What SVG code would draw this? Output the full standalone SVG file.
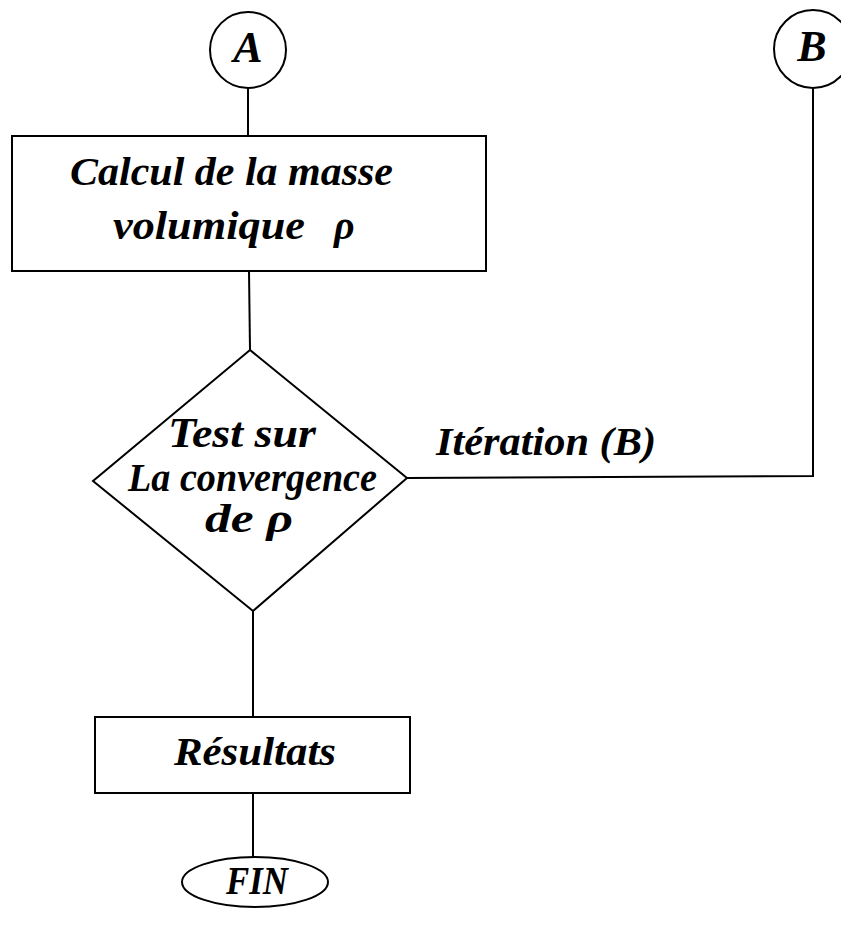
<svg xmlns="http://www.w3.org/2000/svg" width="841" height="935" viewBox="0 0 841 935">
<style>
  .shape{fill:#fff;stroke:#000;stroke-width:2}
  .conn{fill:none;stroke:#000;stroke-width:2}
  .t{font-family:"Liberation Serif","Times New Roman",serif;font-weight:bold;font-style:italic;fill:#000}
</style>
<rect width="841" height="935" fill="#fff"/>
<g id="connectors">
  <line class="conn" x1="248" y1="88" x2="248" y2="136"/>
  <line class="conn" x1="249" y1="271" x2="250" y2="350"/>
  <line class="conn" x1="253" y1="611" x2="253" y2="717"/>
  <line class="conn" x1="253" y1="793" x2="253" y2="857"/>
  <polyline class="conn" points="407,478 813,476 813,88"/>
</g>
<g id="nodeA">
  <circle class="shape" cx="248" cy="50" r="38"/>
  <text class="t" x="248" y="62" font-size="44" text-anchor="middle">A</text>
</g>
<g id="nodeB">
  <circle class="shape" cx="813" cy="49" r="39"/>
  <text class="t" x="812" y="61" font-size="44" text-anchor="middle">B</text>
</g>
<g id="calcul">
  <rect class="shape" x="12" y="136" width="474" height="135"/>
  <text class="t" x="70" y="185" font-size="41" textLength="323" lengthAdjust="spacingAndGlyphs">Calcul de la masse</text>
  <text class="t" x="113" y="239" font-size="41" textLength="192" lengthAdjust="spacingAndGlyphs">volumique</text>
  <text class="t" x="334" y="239" font-size="40" font-style="normal" font-weight="normal">ρ</text>
</g>
<g id="test">
  <polygon class="shape" points="250,350 407,478 253,611 93,481"/>
  <text class="t" x="168" y="447" font-size="42" textLength="148" lengthAdjust="spacingAndGlyphs">Test sur</text>
  <text class="t" x="128" y="491" font-size="39" textLength="249" lengthAdjust="spacingAndGlyphs">La convergence</text>
  <text class="t" x="205" y="532" font-size="40" textLength="88" lengthAdjust="spacingAndGlyphs">de  ρ</text>
</g>
<g id="iteration-label">
  <text class="t" x="436" y="455" font-size="41" textLength="220" lengthAdjust="spacingAndGlyphs">Itération (B)</text>
</g>
<g id="resultats">
  <rect class="shape" x="95" y="717" width="315" height="76"/>
  <text class="t" x="174" y="765" font-size="41" textLength="162" lengthAdjust="spacingAndGlyphs">Résultats</text>
</g>
<g id="fin">
  <ellipse class="shape" cx="255" cy="882" rx="73" ry="25"/>
  <text class="t" x="226" y="894" font-size="40" textLength="62" lengthAdjust="spacingAndGlyphs">FIN</text>
</g>
</svg>
